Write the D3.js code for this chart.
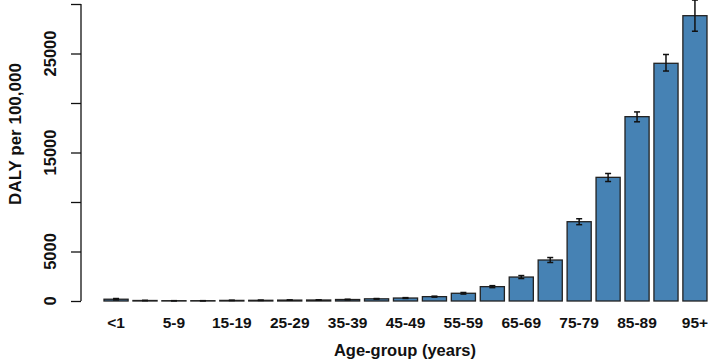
<!DOCTYPE html>
<html>
<head>
<meta charset="utf-8">
<script src="https://cdn.jsdelivr.net/npm/d3@7"></script>
<style>
  body { margin: 0; background: #fff; }
  text { font-family: "Liberation Sans", Arial, sans-serif; font-weight: bold; fill: #111; }
</style>
</head>
<body>
<div id="chart"></div>
<script>
// age groups and DALY per 100,000
const ageGroups = ["<1", "1-4", "5-9", "10-14", "15-19", "20-24", "25-29", "30-34", "35-39",
  "40-44", "45-49", "50-54", "55-59", "60-64", "65-69", "70-74", "75-79", "80-84",
  "85-89", "90-94", "95+"];
const daly = [180, 50, 30, 30, 60, 70, 90, 100, 150, 220, 300, 440, 780, 1450, 2420,
  4140, 8010, 12490, 18620, 24010, 28820];
const errLow = [110, 40, 25, 25, 45, 55, 75, 85, 120, 190, 260, 390, 700, 1350, 2270,
  3890, 7710, 12070, 18100, 23230, 27250];
const errHigh = [250, 60, 35, 35, 75, 85, 105, 115, 180, 250, 340, 490, 860, 1550, 2570,
  4390, 8310, 12880, 19100, 24900, 30400];
const yTicks = [0, 5000, 10000, 15000, 20000, 25000, 30000];
const yTickLabels = ["0", "5000", "", "15000", "", "25000", ""];
const xTickLabels = ["<1", "5-9", "15-19", "25-29", "35-39", "45-49", "55-59", "65-69", "75-79", "85-89", "95+"];

const width = 708, height = 361;

const svg = d3.select("#chart").append("svg")
  .attr("width", width)
  .attr("height", height);

// scales
const x = d3.scaleBand()
  .domain(ageGroups)
  .range([104, 707])
  .paddingInner(1 / 6)
  .paddingOuter(0);

const y = d3.scaleLinear()
  .domain([0, 30000])
  .range([301, 4]);

// bars
svg.append("g")
  .selectAll("rect")
  .data(daly)
  .enter()
  .append("rect")
    .attr("x", (d, i) => x(ageGroups[i]))
    .attr("y", d => y(d))
    .attr("width", x.bandwidth())
    .attr("height", d => y(0) - y(d))
    .attr("fill", "#4682B4")
    .attr("stroke", "#222")
    .attr("stroke-width", 1.3);

// error bars
const err = svg.append("g")
  .attr("stroke", "#111")
  .attr("stroke-width", 1.5);
ageGroups.forEach((g, i) => {
  const cx = x(g) + x.bandwidth() / 2;
  err.append("line")
    .attr("x1", cx).attr("x2", cx)
    .attr("y1", y(errLow[i])).attr("y2", y(errHigh[i]));
  [errLow[i], errHigh[i]].forEach(v => {
    err.append("line")
      .attr("x1", cx - 3).attr("x2", cx + 3)
      .attr("y1", y(v)).attr("y2", y(v));
  });
});

// y axis
const yAxis = svg.append("g")
  .attr("transform", "translate(81,0)")
  .call(d3.axisLeft(y).tickValues(yTicks).tickSize(10).tickFormat(""));
yAxis.select(".domain").attr("stroke", "#111").attr("stroke-width", 1.3).attr("d", "M0," + y(0) + "V" + y(30000));
yAxis.selectAll(".tick line").attr("stroke", "#111").attr("stroke-width", 1.3);

svg.append("g")
  .selectAll("text")
  .data(yTicks)
  .enter()
  .append("text")
    .attr("transform", d => "translate(56," + y(d) + ") rotate(-90)")
    .attr("text-anchor", "middle")
    .style("font-size", "16.5px")
    .text((d, i) => yTickLabels[i]);

// x tick labels (every other group)
svg.append("g")
  .selectAll("text")
  .data(xTickLabels)
  .enter()
  .append("text")
    .attr("x", d => x(d) + x.bandwidth() / 2)
    .attr("y", 328)
    .attr("text-anchor", "middle")
    .style("font-size", "15.5px")
    .text(d => d);

// axis titles
svg.append("text")
  .attr("x", 405)
  .attr("y", 356)
  .attr("text-anchor", "middle")
  .style("font-size", "16.5px")
  .text("Age-group (years)");

svg.append("text")
  .attr("transform", "translate(21,134) rotate(-90)")
  .attr("text-anchor", "middle")
  .style("font-size", "17px")
  .text("DALY per 100,000");
</script>
</body>
</html>
